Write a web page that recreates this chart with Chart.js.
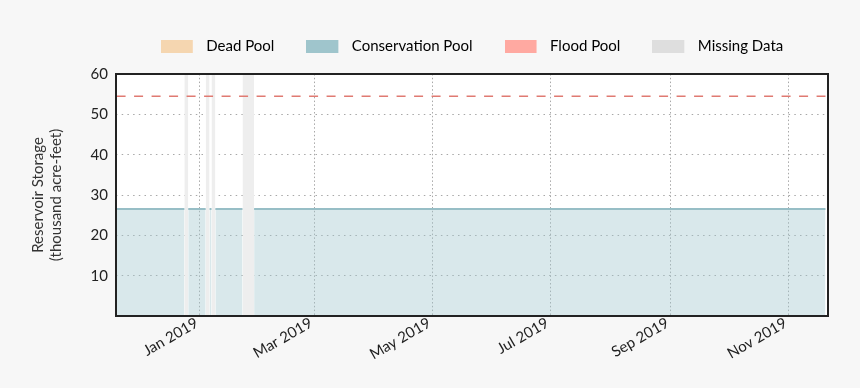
<!DOCTYPE html>
<html><head><meta charset="utf-8">
<script src="https://cdn.jsdelivr.net/npm/chart.js@4/dist/chart.umd.min.js"></script>
<style>html,body{margin:0;padding:0;background:#f7f7f7;} #wrap{width:860px;height:388px;}</style>
</head><body><div id="wrap"><canvas id="c" width="860" height="388"></canvas></div>
<script>
// Day numbers are counted from 1 Jan 2019 (day 0)
const storageDays   = [-43, -8, -7, -6, 3, 4, 5, 6, 7, 8, 22, 25, 28, 323];
const storageValues = [26.5, 26.5, null, 26.5, 26.5, null, 26.5, 26.5, null, 26.5, 26.5, null, 26.5, 26.5];
const floodDays   = [-43, 323];
const floodValues = [54.5, 54.5];
const missingStart = [-8, 3, 6, 22];
const missingEnd   = [-6, 5, 8, 28];
const missingTop = 60;
const tickDays   = [0, 59, 120, 181, 243, 304];
const tickLabels = ['Jan 2019', 'Mar 2019', 'May 2019', 'Jul 2019', 'Sep 2019', 'Nov 2019'];
const yTicks = [10, 20, 30, 40, 50, 60];
const legendLabels = ['Dead Pool', 'Conservation Pool', 'Flood Pool', 'Missing Data'];
const legendColors = ['#f5d6b0', '#9fc5cc', '#ffa9a1', '#dedede'];

const storagePts = storageDays.map((d, i) => ({x: d, y: storageValues[i]}));
const floodPts = floodDays.map((d, i) => ({x: d, y: floodValues[i]}));
const missingPts = [];
missingStart.forEach((s, i) => {
  missingPts.push({x: s, y: missingTop}, {x: missingEnd[i], y: missingTop}, {x: missingEnd[i], y: null});
});

// legend swatch: 32x13 box on the left of a 38px wide marker
function swatch(color) {
  const c = document.createElement('canvas');
  c.width = 38; c.height = 13;
  const g = c.getContext('2d');
  g.fillStyle = color; g.fillRect(0, 0, 32, 13);
  return c;
}
const swatches = legendColors.map(swatch);

const frame = {
  id: 'frame',
  afterInit(chart) {
    const lg = chart.legend;
    if (lg) { const f = lg.fit; lg.fit = function () { f.call(this); this.height = 67; }; }
  },
  beforeDraw(chart) {
    const {ctx, chartArea: a} = chart;
    ctx.save(); ctx.fillStyle = '#ffffff'; ctx.fillRect(a.left, a.top, a.width, a.height); ctx.restore();
  },
  afterDatasetsDraw(chart) {
    const {ctx, chartArea: a} = chart;
    ctx.save(); ctx.strokeStyle = '#222'; ctx.lineWidth = 2;
    ctx.strokeRect(a.left, a.top, a.width, a.height); ctx.restore();
  }
};

const FONT = 'Lato, "Open Sans", sans-serif';
new Chart(document.getElementById('c'), {
  type: 'line',
  data: {
    datasets: [
      {label: legendLabels[0], data: [], borderColor: legendColors[0], backgroundColor: legendColors[0]},
      {label: legendLabels[1], data: storagePts, borderColor: '#97bec6', borderWidth: 2,
       backgroundColor: 'rgba(159,197,204,0.4)', fill: 'origin', pointRadius: 0, spanGaps: false, order: 2},
      {label: legendLabels[2], data: floodPts, borderColor: '#e07a72', borderWidth: 1.6,
       borderDash: [9, 8.5], fill: false, pointRadius: 0, order: 1},
      {label: legendLabels[3], data: missingPts, borderWidth: 0, borderColor: 'rgba(0,0,0,0)',
       backgroundColor: '#eeeeee', fill: 'origin', pointRadius: 0, spanGaps: false, order: 3}
    ]
  },
  options: {
    responsive: false, animation: false, devicePixelRatio: 1,
    layout: {padding: {top: 7, left: 0, right: 32, bottom: 0}},
    plugins: {
      tooltip: {enabled: false},
      legend: {
        position: 'top', fullSize: false, align: 'center',
        labels: {
          usePointStyle: true, pointStyleWidth: 38, boxHeight: 13, padding: 32, color: '#222',
          font: {family: FONT, size: 15},
          generateLabels: () => legendLabels.map((t, i) => ({
            text: t, fillStyle: legendColors[i], strokeStyle: 'rgba(0,0,0,0)', lineWidth: 0,
            pointStyle: swatches[i], hidden: false, datasetIndex: i
          }))
        }
      }
    },
    scales: {
      x: {
        type: 'linear', min: -43.3, max: 324.3,
        afterBuildTicks: s => { s.ticks = tickDays.map(v => ({value: v})); },
        afterFit: s => { s.height = 72; },
        ticks: {
          autoSkip: false, minRotation: 30, maxRotation: 30, padding: -2, labelOffset: -3, color: '#222',
          font: {family: FONT, size: 15},
          callback: v => { const k = tickDays.indexOf(v); return k >= 0 ? tickLabels[k] : ''; }
        },
        grid: {color: '#a8a8a8', lineWidth: 1, drawTicks: false},
        border: {display: false, dash: [1.5, 2.3]}
      },
      y: {
        min: 0, max: 60,
        afterBuildTicks: s => { s.ticks = yTicks.map(v => ({value: v})); },
        afterFit: s => { s.width = 116; },
        ticks: {padding: 8, color: '#222', font: {family: FONT, size: 15}},
        grid: {color: c => (c.tick && c.tick.value === 60) ? 'rgba(0,0,0,0)' : '#a8a8a8', lineWidth: 1, drawTicks: false},
        border: {display: false, dash: [1.5, 4.2]},
        title: {display: true, text: ['Reservoir Storage', '(thousand acre-feet)'], color: '#333',
                font: {family: FONT, size: 15}, padding: {top: 29, bottom: 0}}
      }
    }
  },
  plugins: [frame]
});
</script>
</body></html>
